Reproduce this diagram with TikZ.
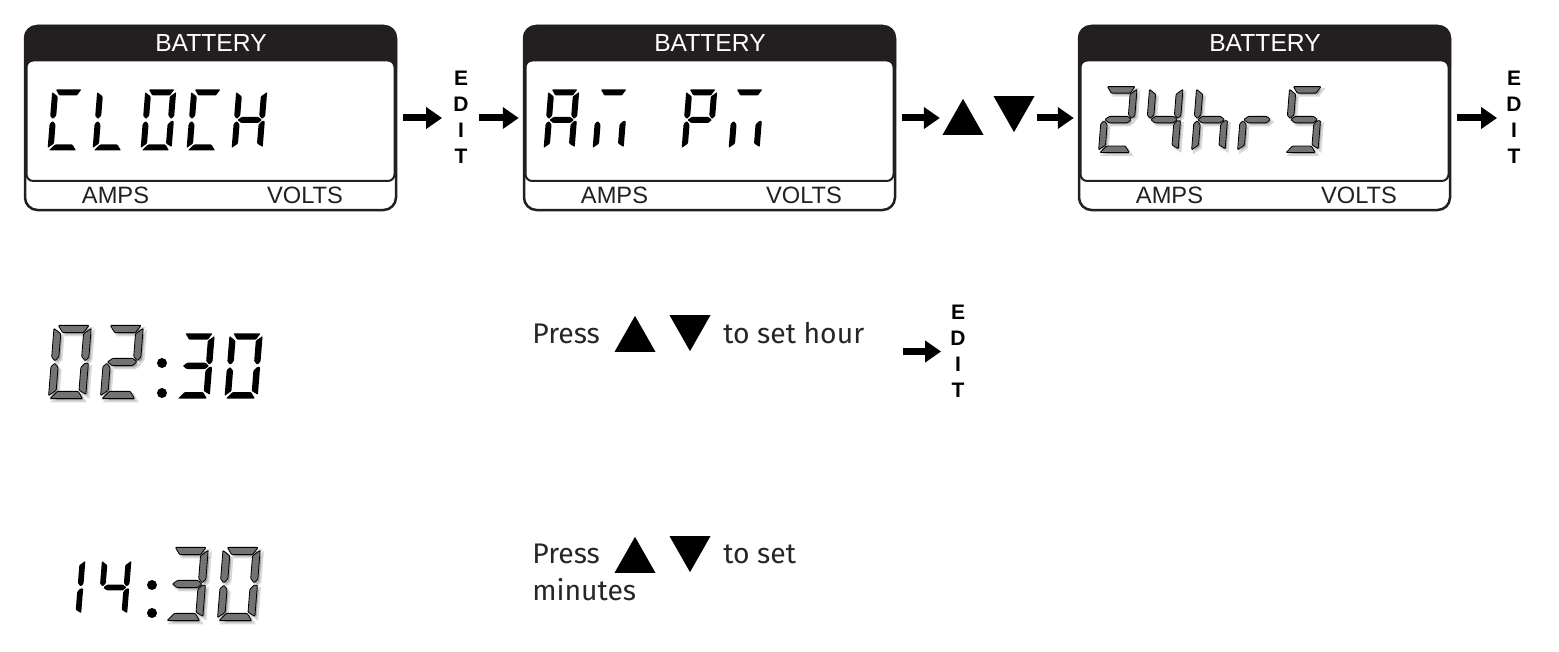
\documentclass[tikz,border=0pt]{standalone}
\usepackage{fontspec}
\setmainfont{Liberation Sans}
\newfontfamily\pressfont{Fira Sans}
\usetikzlibrary{arrows.meta}
\usetikzlibrary{positioning}
\usetikzlibrary{shapes.geometric}

\definecolor{panelink}{HTML}{231F20}
\def\px{0.6pt}

% Segmente einer Ziffer (Breite 30, Hoehe 60)
\def\sega{(3,60.5)--(28.5,60.5)--(24.5,54.5)--(7,54.5)--cycle}
\def\segb{(30.5,58)--(30.5,34)--(27.7,31)--(24.5,34.5)--(24.5,53.5)--cycle}
\def\segc{(30.5,29)--(30.5,3)--(24.5,6.5)--(24.5,25.5)--(27.7,29)--cycle}
\def\segd{(1,-0.5)--(28,-0.5)--(24,5.5)--(6.5,5.5)--cycle}
\def\sege{(-0.5,26)--(2.5,29)--(5.5,25.5)--(5.5,6.5)--(-0.5,2)--cycle}
\def\segf{(-0.5,58)--(5.5,53.5)--(5.5,34.5)--(2.5,31)--(-0.5,34)--cycle}
\def\segg{(3,30)--(7,33)--(24,33)--(27.5,30)--(24,27)--(7,27)--cycle}

% Zeichen als Liste von Segmenten
\def\glyphC{a,f,e,d}
\def\glyphL{f,e,d}
\def\glyphO{a,b,c,d,e,f}
\def\glyphH{f,e,g,b,c}
\def\glyphA{a,b,c,e,f,g}
\def\glyphP{a,b,e,f,g}
\def\glyphm{a,c,e}
\def\glyphh{f,e,g,c}
\def\glyphr{e,g}
\def\glyphS{a,f,g,c,d}
\def\glyphone{b,c}
\def\glyphtwo{a,b,g,e,d}
\def\glyphthree{a,b,g,c,d}
\def\glyphfour{f,g,b,c}

\tikzset{
    panelbox/.style={draw=panelink,fill=white,line width=1.5pt,rounded corners=7.5pt,
        minimum width=371*\px,minimum height=184*\px,inner sep=0pt},
    displaybox/.style={draw=panelink,fill=white,line width=1.2pt,rounded corners=4pt},
    headtext/.style={anchor=base,text=white,font=\fontsize{14.8}{17}\selectfont,inner sep=0pt},
    paneltext/.style={anchor=base,text=panelink,font=\fontsize{14.2}{17}\selectfont,inner sep=0pt},
    editlabel/.style={align=center,inner sep=0pt,font=\bfseries\fontsize{12.6}{15.6}\selectfont},
    steparrow/.style={-{Triangle[length=9.6pt,width=12.6pt]},line width=4.2pt,black},
    uptri/.style={isosceles triangle,isosceles triangle stretches,shape border rotate=90,
        fill=black,inner sep=0pt,minimum width=41*\px,minimum height=36*\px,anchor=north},
    downtri/.style={isosceles triangle,isosceles triangle stretches,shape border rotate=-90,
        fill=black,inner sep=0pt,minimum width=41*\px,minimum height=36*\px,anchor=south},
    presstext/.style={anchor=base west,inner sep=0pt,text=black!85,font=\pressfont\fontsize{17}{21}\selectfont},
    segblack/.style={fill=black,rounded corners=0.5pt},
    seggray/.style={fill=black!55,draw=black,line width=0.5pt,rounded corners=0.5pt},
    segshadow/.style={fill=black!35,draw=black!15,line width=1.2pt,xshift=1.4pt,yshift=-1.4pt}
}

% Zeichen: x, y (unten links), Skalierung, Name, Stil
\newcommand{\lcdchar}[5]{
    \begin{scope}[shift={(#1,#2)},scale=#3,xslant=0.08,y=\px]
        \expandafter\let\expandafter\glyph\csname glyph#4\endcsname
        \foreach \s in \glyph {
            \expandafter\let\expandafter\segpath\csname seg\s\endcsname
            \path[#5] \segpath;
        }
    \end{scope}
}

% Anzeigefeld: Name, linker Rand
\newcommand{\lcdpanel}[2]{
    \node[panelbox] (#1) at (#2+186.5,118) {};
    \fill[panelink,rounded corners=7.5pt] (#2,80) -- (#2,25) -- (#2+373,25) -- (#2+373,80) -- cycle;
    \draw[displaybox] (#2+2.5,60.5) rectangle (#2+370.5,181);
    \node[headtext] (#1head) at (#2+187,52) {BATTERY};
    \node[paneltext] (#1amps) at (#2+91.5,203.5) {AMPS};
    \node[paneltext] (#1volts) at (#2+281,203.5) {VOLTS};
}

\begin{document}
\begin{tikzpicture}[x=\px,y=-\px]
    \useasboundingbox (0,0) rectangle (1559,652);

    % Obere Reihe
    \lcdpanel{clock}{24}
    \lcdpanel{ampm}{523}
    \lcdpanel{format}{1078}

    \foreach \cx/\g in {48/C,93/L,141/O,187/C,232/H} {
        \lcdchar{\cx}{150}{1}{\g}{segblack}
    }
    \foreach \cx/\g in {544/A,593/m,682/P,729/m} {
        \lcdchar{\cx}{150}{1}{\g}{segblack}
    }
    \foreach \cx/\g in {1099/two,1145/four,1192/h,1238/r,1285/S} {
        \lcdchar{\cx}{152}{1.08}{\g}{segshadow}
        \lcdchar{\cx}{152}{1.08}{\g}{seggray}
    }

    \node[editlabel] (edita) at (461,117.5) {E\\D\\I\\T};
    \node[editlabel] (editb) at (1514,117.5) {E\\D\\I\\T};
    \node[uptri] (upa) at (963,98) {};
    \node[downtri] (downa) at (1014,133) {};

    \draw[steparrow,shorten <=3.6pt,shorten >=6.6pt] (clock.east) -- (edita.west |- clock.east);
    \draw[steparrow,shorten <=6pt,shorten >=2.4pt] (edita.east |- ampm.west) -- (ampm.west);
    \draw[steparrow,shorten <=3.6pt,shorten >=5.4pt] (ampm.east) -- (upa.west |- ampm.east);
    \draw[steparrow,shorten <=5.4pt,shorten >=2.4pt] (downa.east |- format.west) -- (format.west);
    \draw[steparrow,shorten <=3.6pt,shorten >=5.4pt] (format.east) -- (editb.west |- format.east);

    % Stunden
    \foreach \cx/\g in {49/O,101/two} {
        \lcdchar{\cx}{398}{1.2}{\g}{segshadow}
        \lcdchar{\cx}{398}{1.2}{\g}{seggray}
    }
    \foreach \cx/\g in {177/three,225/O} {
        \lcdchar{\cx}{398}{1.07}{\g}{segblack}
    }
    \fill[segblack] (162,363) circle (5);
    \fill[segblack] (162,393) circle (5);

    \node[presstext] (presshour) at (532,343) {Press};
    \node[uptri] (uphour) at (635,315) {};
    \node[downtri] (downhour) at (690,352) {};
    \node[presstext] (sethour) at (723,343) {to set hour};
    \node[editlabel] (edithour) at (958,351.5) {E\\D\\I\\T};
    \coordinate (hourstart) at (903,351.5);
    \draw[steparrow,shorten >=5.4pt] (hourstart) -- (edithour.west);

    % Minuten
    \foreach \cx/\g in {52/one,98/four} {
        \lcdchar{\cx}{616}{0.95}{\g}{segblack}
    }
    \foreach \cx/\g in {166/three,218/O} {
        \lcdchar{\cx}{620}{1.2}{\g}{segshadow}
        \lcdchar{\cx}{620}{1.2}{\g}{seggray}
    }
    \fill[segblack] (152,585) circle (5);
    \fill[segblack] (152,613) circle (5);

    \node[presstext] (pressmin) at (532,563) {Press};
    \node[uptri] (upmin) at (635,536) {};
    \node[downtri] (downmin) at (690,573) {};
    \node[presstext] (setmin) at (723,563) {to set};
    \node[presstext] (minutes) at (532,600) {minutes};
\end{tikzpicture}
\end{document}
